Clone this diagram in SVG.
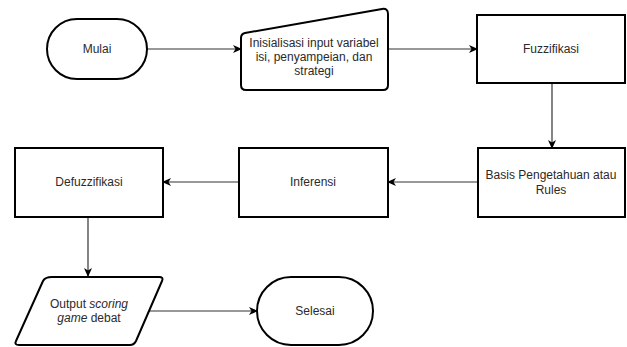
<svg xmlns="http://www.w3.org/2000/svg" width="627" height="347" viewBox="0 0 627 347">
<style>
.n{fill:#fff;stroke:#000;stroke-width:2}
.t{font-family:"Liberation Sans",Arial,sans-serif;font-size:12px;fill:#2a2a2a;text-anchor:middle}
.c{fill:none;stroke:#333;stroke-width:1.2}
</style>
<defs>
<marker id="a" markerWidth="10" markerHeight="10" refX="8" refY="5" orient="auto" markerUnits="userSpaceOnUse">
<path d="M0,1 L9,5 L0,9 L2.5,5 Z" fill="#000"/>
</marker>
</defs>
<rect width="627" height="347" fill="#fff"/>
<g id="connectors">
<path class="c" d="M147,49 H241" marker-end="url(#a)"/>
<path class="c" d="M388,49 H477" marker-end="url(#a)"/>
<path class="c" d="M552,83 V148" marker-end="url(#a)"/>
<path class="c" d="M478,182 H388" marker-end="url(#a)"/>
<path class="c" d="M239,182 H163" marker-end="url(#a)"/>
<path class="c" d="M88,217 V276" marker-end="url(#a)"/>
<path class="c" d="M149,311 H257" marker-end="url(#a)"/>
</g>
<g id="mulai">
<rect class="n" x="47" y="19" width="100" height="60" rx="30"/>
<text class="t" x="97" y="53">Mulai</text>
</g>
<g id="inisialisasi">
<path class="n" d="M245,33 L382,9 Q388,8 388,14 L388,85 Q388,90 383,90 L246,90 Q241,90 241,85 L241,38 Q241,34 245,33 Z"/>
<text class="t" x="314" y="47">Inisialisasi input variabel</text>
<text class="t" x="314" y="61">isi, penyampeian, dan</text>
<text class="t" x="314" y="75">strategi</text>
</g>
<g id="fuzzifikasi">
<rect class="n" x="477" y="15" width="148" height="68"/>
<text class="t" x="551" y="53">Fuzzifikasi</text>
</g>
<g id="basis">
<rect class="n" x="478" y="148" width="147" height="69"/>
<text class="t" x="551" y="179">Basis Pengetahuan atau</text>
<text class="t" x="551" y="194">Rules</text>
</g>
<g id="inferensi">
<rect class="n" x="239" y="148" width="149" height="69"/>
<text class="t" x="313" y="186">Inferensi</text>
</g>
<g id="defuzzifikasi">
<rect class="n" x="15" y="148" width="148" height="69"/>
<text class="t" x="89" y="186">Defuzzifikasi</text>
</g>
<g id="output">
<path class="n" d="M52,277 L159,277 Q164,277 162,281 L136,341 Q134,345 130,345 L19,345 Q14,345 16,341 L43,281 Q45,277 52,277 Z"/>
<text class="t" x="89" y="308">Output <tspan font-style="italic">scoring</tspan></text>
<text class="t" x="89" y="322"><tspan font-style="italic">game</tspan> debat</text>
</g>
<g id="selesai">
<rect class="n" x="257" y="277" width="116" height="68" rx="34"/>
<text class="t" x="315" y="315">Selesai</text>
</g>
</svg>
